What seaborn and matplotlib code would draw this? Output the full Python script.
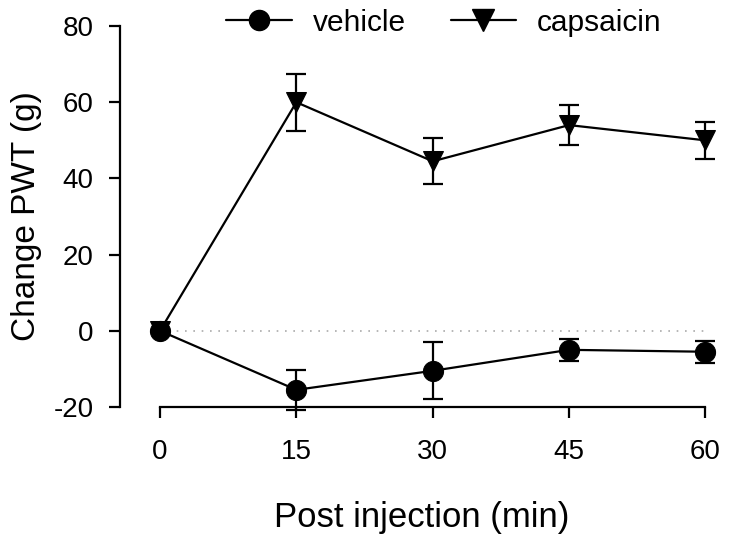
import matplotlib
matplotlib.use("Agg")
import matplotlib.pyplot as plt
from matplotlib.lines import Line2D
import seaborn as sns
import pandas as pd

# values
minutes = [0, 15, 30, 45, 60]
vehicle_mean = [0, -15.5, -10.5, -5.0, -5.5]
vehicle_sem = [0, 5.2, 7.5, 2.8, 2.9]
capsaicin_mean = [0, 60.0, 44.5, 54.0, 50.0]
capsaicin_sem = [0, 7.5, 6.0, 5.3, 4.8]
groups = ["vehicle", "capsaicin"]

df = pd.DataFrame({
    "time": minutes * 2,
    "change": vehicle_mean + capsaicin_mean,
    "sem": vehicle_sem + capsaicin_sem,
    "group": [groups[0]] * 5 + [groups[1]] * 5,
})

sns.set_style("ticks")
plt.rcParams["font.family"] = ["Liberation Sans", "DejaVu Sans"]
plt.rcParams["text.color"] = "black"
plt.rcParams["axes.labelcolor"] = "black"
plt.rcParams["axes.unicode_minus"] = False

fig = plt.figure(figsize=(7.29, 5.43), dpi=100)
ax = fig.add_axes([0.1646, 0.2505, 0.828, 0.7015])

# dotted zero line
ax.plot([0, 60], [0, 0], linestyle=(0, (1, 4)), color="#aaaaaa", lw=1.2, zorder=1)

sns.lineplot(data=df, x="time", y="change", hue="group", style="group",
             markers={"vehicle": "o", "capsaicin": "v"}, dashes=False,
             palette={"vehicle": "black", "capsaicin": "black"},
             markersize=14.5, markeredgecolor="black", lw=1.6, ax=ax,
             legend=False, zorder=3)

for g in groups:
    sub = df[df["group"] == g]
    ax.errorbar(sub["time"], sub["change"], yerr=sub["sem"], fmt="none",
                ecolor="black", elinewidth=1.6, capsize=7.5, capthick=1.6,
                clip_on=False, zorder=2)

ax.set_xlim(-4.4, 62)
ax.set_ylim(-20, 80)
ax.set_xticks(minutes)
ax.set_yticks([-20, 0, 20, 40, 60, 80])
ax.spines["top"].set_visible(False)
ax.spines["right"].set_visible(False)
ax.spines["bottom"].set_bounds(0, 60)
ax.spines["left"].set_bounds(-20, 80)
for s in ["left", "bottom"]:
    ax.spines[s].set_linewidth(1.6)
    ax.spines[s].set_color("black")
ax.tick_params(axis="both", labelsize=20, width=1.6, length=8, colors="black")
ax.tick_params(axis="x", pad=15)
ax.tick_params(axis="y", pad=11)

ax.set_xlabel("Post injection (min)", fontsize=25, labelpad=26)
ax.set_ylabel("Change PWT (g)", fontsize=24, labelpad=8)

handles = [Line2D([], [], color="black", lw=1.6, marker="o", markersize=14.5),
           Line2D([], [], color="black", lw=1.6, marker="v", markersize=15.5)]
fig.legend(handles, groups, loc="center", bbox_to_anchor=(0.609, 0.958), ncol=2,
           frameon=False, fontsize=21.5, handlelength=2.2, handletextpad=0.7,
           columnspacing=1.5)

fig.savefig("out.png", dpi=100)
